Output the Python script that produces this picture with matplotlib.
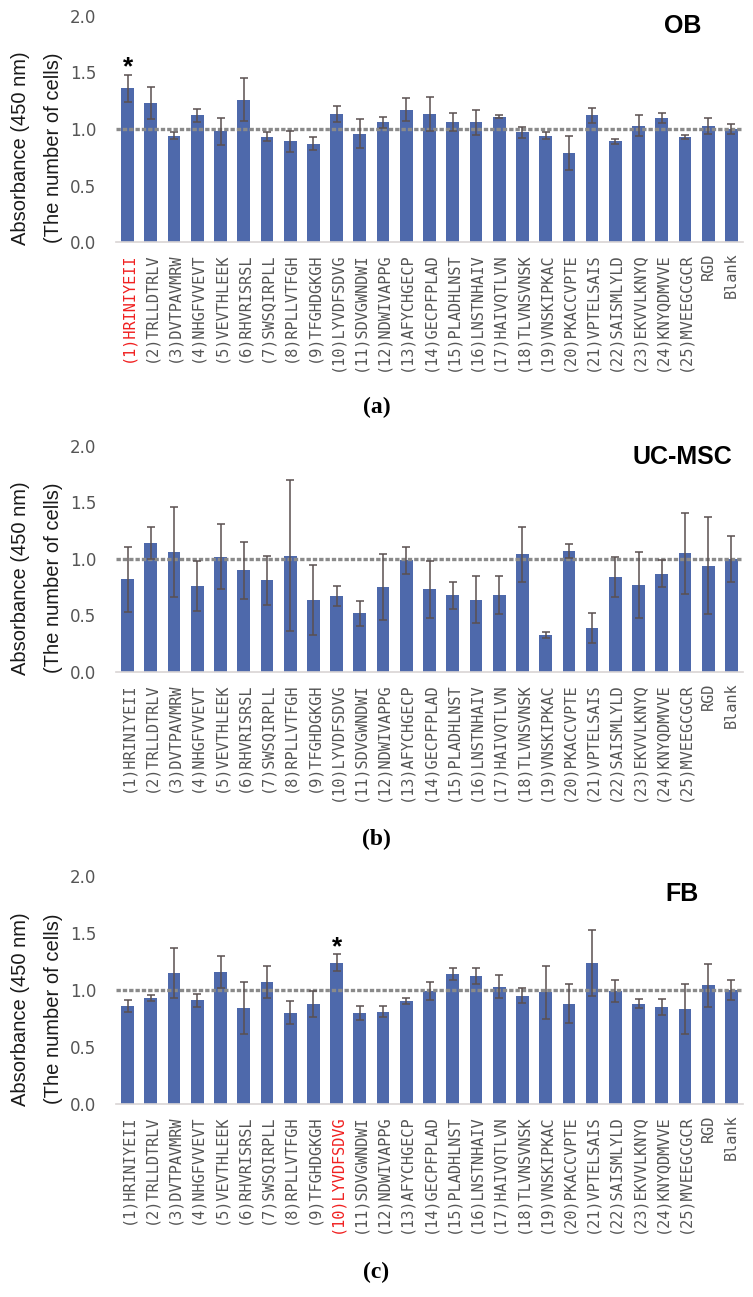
import matplotlib.pyplot as plt
import matplotlib.transforms as mtransforms
import numpy as np

# peptide sequences (1)-(25) plus the two controls
peptides = ['HRINIYEII', 'TRLLDTRLV', 'DVTPAVMRW', 'NHGFVVEVT', 'VEVTHLEEK',
            'RHVRISRSL', 'SWSQIRPLL', 'RPLLVTFGH', 'TFGHDGKGH', 'LYVDFSDVG',
            'SDVGWNDWI', 'NDWIVAPPG', 'AFYCHGECP', 'GECPFPLAD', 'PLADHLNST',
            'LNSTNHAIV', 'HAIVQTLVN', 'TLVNSVNSK', 'VNSKIPKAC', 'PKACCVPTE',
            'VPTELSAIS', 'SAISMLYLD', 'EKVVLKNYQ', 'KNYQDMVVE', 'MVEEGCGCR']
controls = ['RGD', 'Blank']

ob_mean = [1.36, 1.23, 0.94, 1.12, 0.98, 1.26, 0.93, 0.89, 0.87, 1.13, 0.96, 1.06, 1.17,
           1.13, 1.06, 1.06, 1.11, 0.97, 0.94, 0.79, 1.12, 0.89, 1.03, 1.10, 0.93, 1.03, 1.00]
ob_err = [0.12, 0.14, 0.03, 0.06, 0.12, 0.19, 0.04, 0.09, 0.06, 0.07, 0.13, 0.05, 0.10,
          0.15, 0.08, 0.11, 0.01, 0.05, 0.03, 0.15, 0.065, 0.02, 0.09, 0.045, 0.02, 0.07, 0.045]

uc_mean = [0.82, 1.14, 1.06, 0.76, 1.02, 0.90, 0.81, 1.03, 0.64, 0.67, 0.52, 0.75, 0.99,
           0.73, 0.68, 0.64, 0.68, 1.04, 0.33, 1.07, 0.39, 0.84, 0.77, 0.87, 1.05, 0.94, 1.00]
uc_err = [0.29, 0.14, 0.40, 0.22, 0.29, 0.25, 0.22, 0.67, 0.31, 0.09, 0.11, 0.29, 0.12,
          0.25, 0.12, 0.21, 0.17, 0.24, 0.027, 0.06, 0.13, 0.18, 0.29, 0.12, 0.36, 0.43, 0.20]

fb_mean = [0.86, 0.93, 1.15, 0.91, 1.16, 0.84, 1.07, 0.80, 0.88, 1.24, 0.80, 0.81, 0.90,
           0.99, 1.14, 1.12, 1.03, 0.95, 0.98, 0.88, 1.24, 0.99, 0.88, 0.85, 0.83, 1.04, 1.00]
fb_err = [0.05, 0.03, 0.22, 0.055, 0.14, 0.23, 0.14, 0.10, 0.115, 0.075, 0.06, 0.05, 0.027,
          0.08, 0.05, 0.07, 0.10, 0.067, 0.23, 0.17, 0.29, 0.094, 0.041, 0.07, 0.22, 0.19, 0.09]

cell_types = ['OB', 'UC-MSC', 'FB']
captions = ['a', 'b', 'c']
starred = [0, None, 9]   # index of the significant peptide in each panel

bar_color = '#4e69ab'
gray = '#555555'
red = '#f02020'

fig = plt.figure(figsize=(7.53, 12.97), dpi=100)

panels = [
    (ob_mean, ob_err, [0.1541, 0.8134, 0.8327, 0.1743], 0.955, 0.6862),
    (uc_mean, uc_err, [0.1541, 0.4819, 0.8327, 0.1743], 0.950, 0.3524),
    (fb_mean, fb_err, [0.1541, 0.1488, 0.8327, 0.1758], 0.920, 0.0193),
]

labels = ['(%d)%s' % (i + 1, p) for i, p in enumerate(peptides)] + controls
x = np.arange(len(labels))

for k, (mean, err, rect, title_y, cap_y) in enumerate(panels):
    ax = fig.add_axes(rect)
    ax.bar(x, mean, width=0.55, color=bar_color, zorder=2)
    ax.errorbar(x, mean, yerr=err, fmt='none', ecolor='#5a5050', elinewidth=1.1,
                capsize=2.6, capthick=1.1, zorder=4)
    ax.axhline(1.0, color='#8a8a8a', lw=2.4, linestyle=(0, (1.3, 0.6)), zorder=3)

    ax.set_xlim(-0.5, len(labels) - 0.5)
    ax.set_ylim(0, 2.0)
    ax.set_yticks([0, 0.5, 1.0, 1.5, 2.0])
    ax.set_yticklabels(['0.0', '0.5', '1.0', '1.5', '2.0'])
    ax.tick_params(axis='y', length=0, pad=14, labelsize=12, labelcolor=gray)
    ax.set_xticks([])
    for s in ['top', 'right', 'left']:
        ax.spines[s].set_visible(False)
    ax.spines['bottom'].set_color('#d9d4d4')
    ax.spines['bottom'].set_linewidth(1.2)

    # rotated peptide labels under the axis
    for i, lab in enumerate(labels):
        c = red if starred[k] == i else gray
        ax.text(i, -0.045, lab, transform=ax.get_xaxis_transform(), rotation=90,
                ha='center', va='top', fontsize=11, family='DejaVu Sans Mono', color=c)

    if starred[k] is not None:
        j = starred[k]
        ax.text(j, mean[j] + err[j] + 0.0, '*', ha='center', va='baseline',
                fontsize=19, fontweight='bold', family='Liberation Sans')

    ax.text(0.903, title_y, cell_types[k], transform=ax.transAxes, ha='center', va='center',
            fontsize=18, fontweight='bold', family='Liberation Sans')

    # two-line y label, placed in inches from the figure's left edge
    lab_tr = mtransforms.blended_transform_factory(fig.dpi_scale_trans, ax.transAxes)
    ax.text(0.21, 0.416, 'Absorbance (450 nm)', transform=lab_tr, rotation=90,
            ha='center', va='center', fontsize=14.5, family='Liberation Sans', color='#1a1a1a')
    ax.text(0.54, 0.416, '(The number of cells)', transform=lab_tr, rotation=90,
            ha='center', va='center', fontsize=14.5, family='Liberation Sans', color='#1a1a1a')

    fig.text(0.5, cap_y, '(%s)' % captions[k], ha='center', va='center',
             fontsize=17, fontweight='bold', family='Liberation Serif')

fig.savefig('out.png', dpi=100)
